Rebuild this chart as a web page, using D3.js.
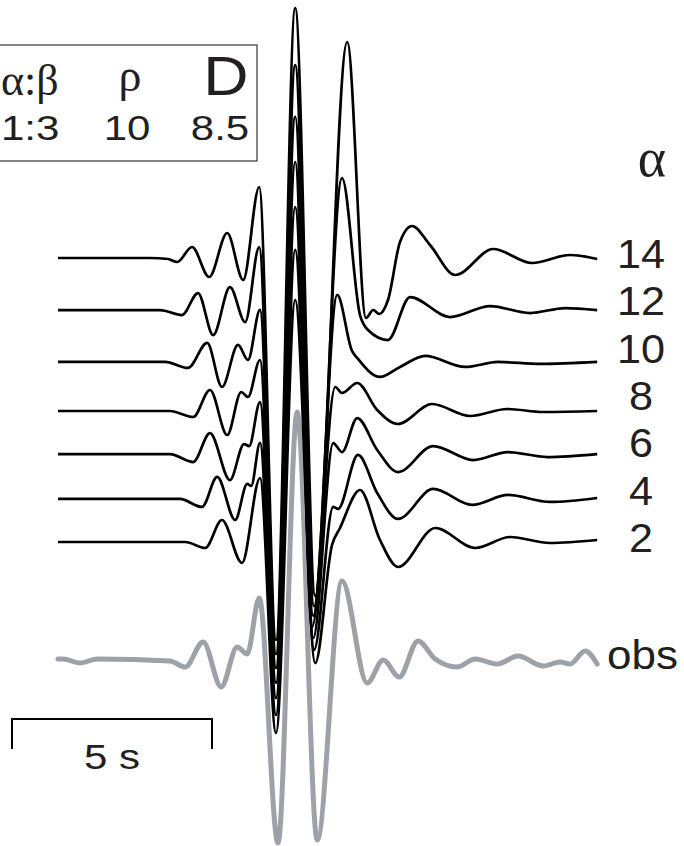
<!DOCTYPE html>
<html>
<head>
<meta charset="utf-8">
<script src="https://cdn.jsdelivr.net/npm/d3@7"></script>
<style>
  html, body { margin: 0; padding: 0; background: #fff; }
  svg { display: block; }
</style>
</head>
<body>
<svg id="chart" width="684" height="846"></svg>
<script>
// Synthetic seismograms for a range of P velocities (alpha), plus the observed record.
// Each trace: [time (s), amplitude] samples; amplitude in display units.
const alphaValues = [14, 12, 10, 8, 6, 4, 2];

const trace14 = [[0,0],[2.3,0],[2.75,-0.01],[2.98,-0.04],[3.35,0.11],[3.78,-0.19],[4.23,0.25],[4.63,-0.22],[5.03,0.71],[5.45,-3.82],[5.93,2.50],[6.43,-3.38],[7.23,2.16],[7.7,-0.60],[7.88,-0.52],[8.03,-0.56],[8.25,-0.42],[8.55,0.16],[8.85,0.32],[9.3,0.13],[9.93,-0.17],[10.88,0.09],[11.85,-0.05],[12.8,0.03],[13.48,-0.01]];
const trace12 = [[0,0],[2.55,0],[3.1,-0.05],[3.5,0.17],[3.88,-0.25],[4.3,0.23],[4.68,-0.12],[5.03,0.63],[5.45,-3.44],[5.93,2.45],[6.4,-2.96],[7.1,1.32],[7.55,-0.05],[7.75,-0.20],[8.25,-0.30],[8.8,0.13],[9.8,-0.07],[10.8,0.04],[11.8,-0.03],[12.68,0.02],[13.48,0]];
const trace10 = [[0,0],[2.68,0],[3.25,-0.06],[3.73,0.19],[4.1,-0.25],[4.5,0.17],[4.75,0.02],[5.05,0.52],[5.45,-3.06],[5.93,2.45],[6.38,-2.54],[6.98,0.67],[7.35,0.11],[7.48,0.04],[8.05,-0.15],[8.55,-0.05],[9.18,0.06],[10.18,-0.05],[11.0,0],[12.05,-0.02],[13.48,0]];
const trace8 = [[0,0],[2.8,0],[3.38,-0.06],[3.8,0.21],[4.23,-0.24],[4.58,0.19],[4.75,0.14],[5.05,0.51],[5.45,-2.72],[5.93,2.49],[6.35,-2.16],[6.93,0.24],[7.1,0.18],[7.48,0.28],[7.98,0.01],[8.5,-0.13],[9.35,0.07],[10.3,-0.05],[11.23,0.02],[12.13,-0.01],[13.48,0]];
const trace6 = [[0,0],[2.8,0],[3.38,-0.08],[3.8,0.21],[4.3,-0.26],[4.65,0.10],[4.78,0.08],[5.05,0.52],[5.45,-2.44],[5.93,2.47],[6.38,-1.84],[6.88,0.11],[7.1,0.02],[7.48,0.36],[7.98,0.04],[8.5,-0.18],[9.38,0.08],[10.38,-0.06],[11.25,0.02],[12.23,-0.03],[13.48,0]];
const trace4 = [[0,0],[3.05,0],[3.6,-0.08],[3.98,0.22],[4.43,-0.21],[4.73,0.15],[4.83,0.13],[5.05,0.56],[5.45,-2.16],[5.93,2.49],[6.4,-1.51],[6.88,-0.08],[7.0,-0.10],[7.5,0.44],[7.98,0.06],[8.5,-0.20],[9.38,0.10],[10.35,-0.06],[11.25,0.04],[12.3,-0.03],[13.48,0.01]];
const trace2 = [[0,0],[3.18,0],[3.68,-0.06],[4.1,0.22],[4.6,-0.21],[5.05,0.64],[5.45,-1.91],[5.93,2.42],[6.43,-1.21],[6.85,-0.03],[7.05,0.14],[7.55,0.52],[8.05,0.02],[8.5,-0.25],[9.43,0.14],[10.43,-0.06],[11.3,0.05],[12.3,-0.01],[13.48,0.02]];

// Static (pre-event) level of each synthetic trace, same order as alphaValues.
const restLevel = [0, -0.047, -0.093, -0.11, -0.067, -0.043, 0];

const observed = [[0,0],[0.13,0],[0.55,-0.04],[0.98,0],[2.8,-0.02],[3.18,-0.08],[3.63,0.17],[4.08,-0.28],[4.48,0.12],[4.73,0.05],[5.03,0.61],[5.5,-1.84],[5.98,2.47],[6.48,-1.81],[7.1,0.78],[7.73,-0.24],[8.13,-0.01],[8.53,-0.18],[9.0,0.18],[9.43,0],[9.98,-0.08],[10.43,0],[10.98,-0.05],[11.5,0.03],[12.13,-0.07],[12.55,-0.03],[12.8,-0.05],[13.18,0.08],[13.48,-0.05]];

// Model parameters shown in the inset box.
const paramNames = ["α:β", "ρ", "D"];
const paramValues = ["1:3", "10", "8.5"];
const scaleBarSeconds = 5;

const synthetics = [trace14, trace12, trace10, trace8, trace6, trace4, trace2];

const svg = d3.select("#chart");
const ink = "#231f20";
const sans = "'Liberation Sans', Arial, Helvetica, sans-serif";
const serif = "'Liberation Serif', 'Times New Roman', serif";

const x = d3.scaleLinear().domain([0, 13.5]).range([58, 598]);
const slot = d3.scalePoint().domain(alphaValues).range([258, 542]);
const amp = d3.scaleLinear().domain([0, 1]).range([0, -100]);
const obsBase = 659;

function label(g, str, px, py, size, family, anchor, sx) {
  return g.append("text")
    .attr("transform", `translate(${px},${py}) scale(${sx},1)`)
    .attr("text-anchor", anchor)
    .attr("font-family", family)
    .attr("font-size", size)
    .attr("fill", ink)
    .text(str);
}

// observed record (grey, underneath)
const obsLine = d3.line()
  .x(d => x(d[0]))
  .y(d => amp(d[1]))
  .curve(d3.curveMonotoneX);

svg.append("g")
  .attr("transform", `translate(0,${obsBase})`)
  .append("path")
  .attr("d", obsLine(observed))
  .attr("fill", "none")
  .attr("stroke", "#9ca2a7")
  .attr("stroke-width", 5)
  .attr("stroke-linejoin", "round")
  .attr("stroke-linecap", "round");

// synthetic traces
synthetics.forEach((tr, i) => {
  const dc = restLevel[i];
  const line = d3.line()
    .x(d => x(d[0]))
    .y(d => amp(d[1] + dc))
    .curve(d3.curveMonotoneX);
  svg.append("g")
    .attr("transform", `translate(0,${slot(alphaValues[i])})`)
    .append("path")
    .attr("d", line(tr))
    .attr("fill", "none")
    .attr("stroke", "#000")
    .attr("stroke-width", 2.7)
    .attr("stroke-linejoin", "round");
});

// trace labels
const labels = svg.append("g");
alphaValues.forEach(a => {
  label(labels, String(a), 641, slot(a) + 10, 40, sans, "middle", 1.08);
});
label(labels, "obs", 607, obsBase + 10, 40, sans, "start", 1.1);
label(labels, "α", 652, 176, 54, serif, "middle", 1);

// parameter box
const box = svg.append("g");
box.append("rect")
  .attr("x", -2).attr("y", 45)
  .attr("width", 259).attr("height", 116)
  .attr("fill", "none")
  .attr("stroke", "#444")
  .attr("stroke-width", 1.3);
label(box, paramNames[0], 1, 95, 44, serif, "start", 1.0);
label(box, paramNames[1], 130, 91, 46, serif, "middle", 1.0);
label(box, paramNames[2], 226, 95, 56, sans, "middle", 1.12);
label(box, paramValues[0], 1, 140, 35, sans, "start", 1.2);
label(box, paramValues[1], 127, 140, 35, sans, "middle", 1.2);
label(box, paramValues[2], 220, 140, 35, sans, "middle", 1.2);

// time scale bar
const barStart = -1.15;
const bar = svg.append("g");
const bx0 = x(barStart), bx1 = x(barStart + scaleBarSeconds);
bar.append("path")
  .attr("d", `M${bx0},749V719H${bx1}V749`)
  .attr("fill", "none")
  .attr("stroke", "#000")
  .attr("stroke-width", 2);
label(bar, `${scaleBarSeconds} s`, (bx0 + bx1) / 2, 769, 35, sans, "middle", 1.2);
</script>
</body>
</html>
